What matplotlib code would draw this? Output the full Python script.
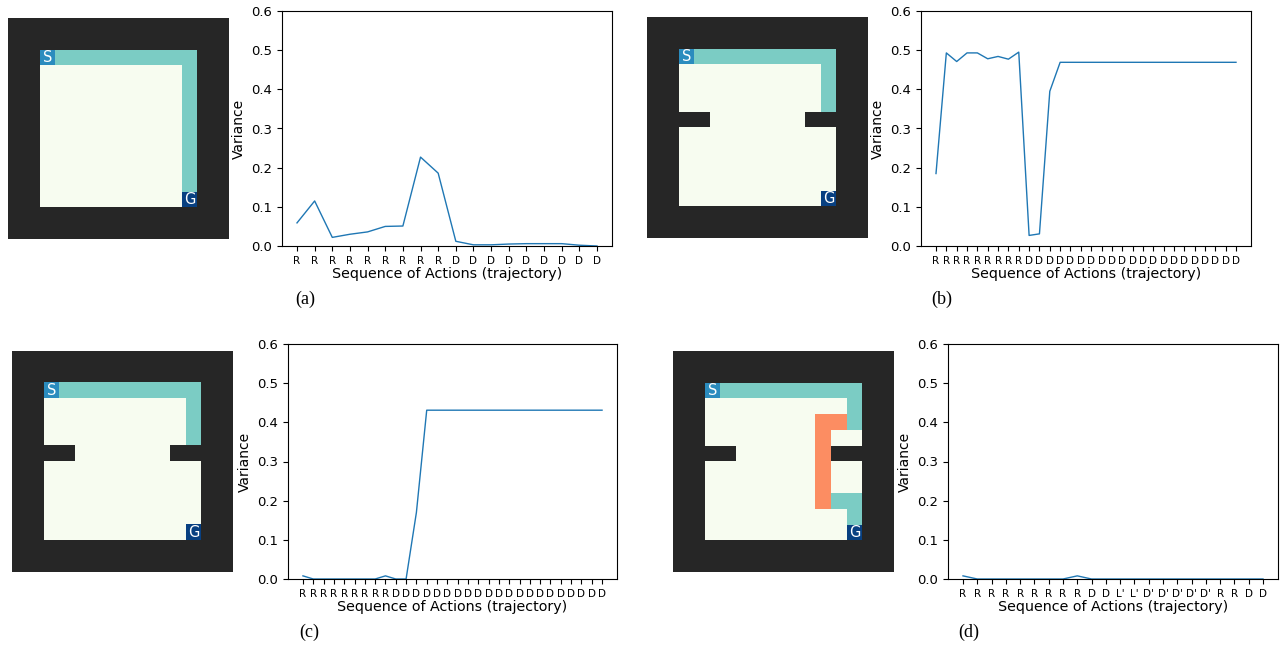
import numpy as np
import matplotlib.pyplot as plt
from matplotlib.colors import ListedColormap

# trajectories (tick labels) and variances
acts_a = ['R'] * 9 + ['D'] * 9
var_a = [0.059, 0.115, 0.022, 0.030, 0.036, 0.050, 0.051, 0.227, 0.186,
         0.012, 0.003, 0.003, 0.005, 0.006, 0.006, 0.006, 0.002, 0.0]

acts_b = ['R'] * 9 + ['D'] * 21
var_b = [0.185, 0.493, 0.471, 0.493, 0.493, 0.478, 0.484, 0.477, 0.495,
         0.027, 0.031, 0.395, 0.469] + [0.469] * 17

acts_c = ['R'] * 9 + ['D'] * 21
var_c = [0.008, 0.0, 0.0, 0.0, 0.0, 0.0, 0.0, 0.0, 0.008,
         0.0, 0.0, 0.17, 0.431] + [0.431] * 17

acts_d = ['R'] * 9 + ['D', 'D', "L'", "L'", "D'", "D'", "D'", "D'", "D'",
                      'R', 'R', 'D', 'D']
var_d = [0.008, 0.0, 0.0, 0.0, 0.0, 0.0, 0.0, 0.0, 0.008] + [0.0] * 13

# gridworld: 14x14 with a 2-cell border, start/goal cells
n_cells = 14
start = (2, 2)
goal = (11, 11)
inner_walls = [(6, 2), (6, 3), (6, 10), (6, 11)]

# colours: floor, wall, path, alt path, start, goal
cmap = ListedColormap(['#f7fcf0', '#262626', '#7bccc4', '#fc8d62', '#2b8cbe', '#084081'])


def make_grid(actions, walls):
    g = np.ones((n_cells, n_cells))
    g[2:12, 2:12] = 0
    for w in walls:
        g[w] = 1
    moves = {'R': (0, 1), 'L': (0, -1), 'D': (1, 0), 'U': (-1, 0)}
    r, c = start
    for a in actions:
        dr, dc = moves[a[0]]
        if g[r + dr, c + dc] != 1:
            r, c = r + dr, c + dc
            g[r, c] = 3 if a.endswith("'") else 2
    g[start] = 4
    g[goal] = 5
    return g


def draw_grid(rect, actions, walls):
    ax = fig.add_axes(rect)
    ax.imshow(make_grid(actions, walls), cmap=cmap, vmin=-0.5, vmax=5.5,
              interpolation='nearest')
    ax.text(start[1], start[0], 'S', color='white', ha='center', va='center', fontsize=10.5)
    ax.text(goal[1], goal[0], 'G', color='white', ha='center', va='center', fontsize=10.5)
    ax.axis('off')


def draw_var(rect, actions, values, caption, cap_x):
    ax = fig.add_axes(rect)
    ax.plot(range(len(values)), values, color='#1f77b4', lw=1)
    ax.set_ylim(0, 0.6)
    ax.set_xticks(range(len(actions)))
    ax.set_xticklabels(actions, fontsize=7.5)
    ax.tick_params(axis='y', labelsize=9.5)
    ax.set_xlabel('Sequence of Actions (trajectory)', fontsize=10.3, labelpad=1)
    ax.set_ylabel('Variance', fontsize=10)
    fig.text(cap_x, rect[1] - 0.082, caption, family='Liberation Serif', fontsize=13,
             ha='left', va='center')


W, H = 1281.0, 648.0
fig = plt.figure(figsize=(12.81, 6.48), dpi=100)


def px(x0, y0, x1, y1):
    return [x0 / W, 1 - y1 / H, (x1 - x0) / W, (y1 - y0) / H]


draw_grid(px(8, 18, 229, 239), acts_a, [])
draw_grid(px(647, 17, 868, 238), acts_b, inner_walls)
draw_grid(px(12, 351, 233, 572), acts_c, inner_walls)
draw_grid(px(673, 351, 894, 572), acts_d, inner_walls)

draw_var(px(282, 11, 612, 246), acts_a, var_a, '(a)', 295 / W)
draw_var(px(921, 11, 1251, 246), acts_b, var_b, '(b)', 931 / W)
draw_var(px(288, 344, 617, 579), acts_c, var_c, '(c)', 299 / W)
draw_var(px(948, 344, 1278, 579), acts_d, var_d, '(d)', 958 / W)

plt.savefig('out.png', dpi=100)
plt.close()
